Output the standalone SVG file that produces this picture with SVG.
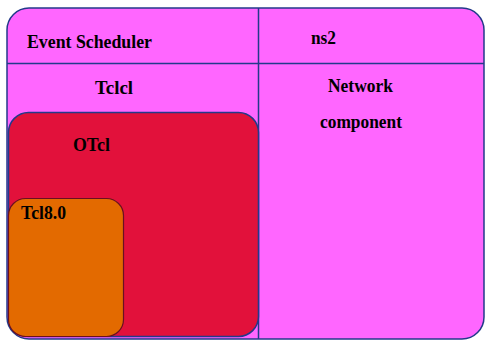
<svg xmlns="http://www.w3.org/2000/svg" width="486" height="341" viewBox="0 0 486 341">
<style>
.t{font-family:"Liberation Serif","Times New Roman",serif;font-weight:bold;font-size:18px;fill:#000}
.ln{stroke:#233a8a;stroke-width:1.5;fill:none}
</style>
<rect x="0" y="0" width="486" height="341" fill="#fff"/>
<g id="ns2">
<rect x="7" y="8" width="477" height="331" rx="22" fill="#ff66ff" stroke="#233a8a" stroke-width="1.5"/>
</g>
<g id="dividers">
<line class="ln" x1="258.5" y1="8" x2="258.5" y2="339"/>
<line class="ln" x1="7" y1="63.5" x2="484" y2="63.5"/>
</g>
<g id="event-scheduler"><text class="t" x="27" y="48" textLength="125" lengthAdjust="spacingAndGlyphs">Event Scheduler</text></g>
<g id="ns2-label"><text class="t" x="311" y="44" textLength="25" lengthAdjust="spacingAndGlyphs">ns2</text></g>
<g id="network-component">
<text class="t" x="328" y="92" textLength="65" lengthAdjust="spacingAndGlyphs">Network</text>
<text class="t" x="320" y="128" textLength="82" lengthAdjust="spacingAndGlyphs">component</text>
</g>
<g id="tclcl"><text class="t" x="95" y="94" textLength="38" lengthAdjust="spacingAndGlyphs">Tclcl</text></g>
<g id="otcl">
<rect x="8.5" y="112.5" width="250" height="224" rx="20" fill="#e2113b" stroke="#233a8a" stroke-width="1.5"/>
<text class="t" x="73" y="151" textLength="37" lengthAdjust="spacingAndGlyphs">OTcl</text>
</g>
<g id="tcl80">
<rect x="8.5" y="198.5" width="115" height="138" rx="17" fill="#e36a00" stroke="#6a1020" stroke-width="1.2"/>
<text class="t" x="21" y="219" textLength="45" lengthAdjust="spacingAndGlyphs">Tcl8.0</text>
</g>
</svg>
